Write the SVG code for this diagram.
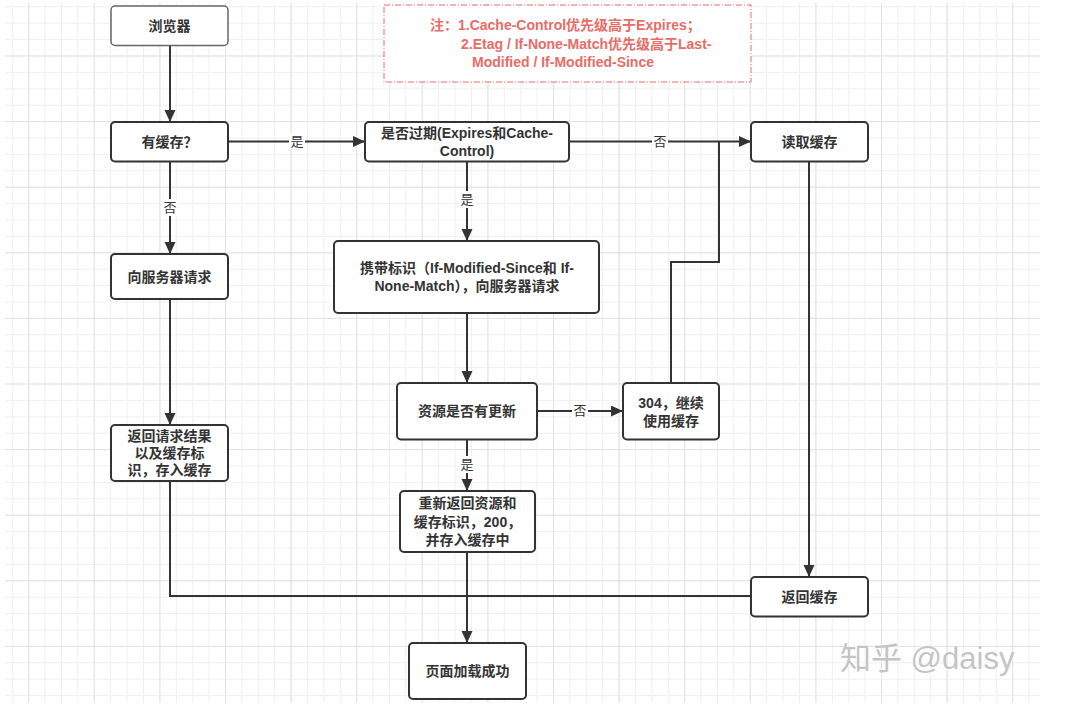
<svg xmlns="http://www.w3.org/2000/svg" width="1092" height="716" viewBox="0 0 1092 716">
  <style>
    .node rect { fill: #ffffff; stroke: #333333; stroke-width: 2; }
    .node text { font-family: "Liberation Sans", "Noto Sans CJK SC", sans-serif; font-size: 14px; font-weight: bold; fill: #333333; text-anchor: middle; dominant-baseline: central; }
    .edge { fill: none; stroke: #333333; stroke-width: 2; }
    .lbl text { font-family: "Liberation Sans", "Noto Sans CJK SC", sans-serif; font-size: 13px; fill: #333333; text-anchor: middle; dominant-baseline: central; }
    .lbl rect { fill: #ffffff; }
    .note text { font-family: "Liberation Sans", "Noto Sans CJK SC", sans-serif; font-size: 14px; font-weight: bold; fill: #ea6b66; dominant-baseline: central; }
    .wm { font-family: "Liberation Sans", "Noto Sans CJK SC", sans-serif; font-size: 31px; fill: #c4c4c4; dominant-baseline: central; }
  </style>
  <defs>
    <pattern id="minor" patternUnits="userSpaceOnUse" x="28.2" y="55.5" width="16.4" height="16.4">
      <path d="M0.5,0 V16.4 M0,0.5 H16.4" stroke="#efefef" stroke-width="1" fill="none"/>
    </pattern>
    <pattern id="major" patternUnits="userSpaceOnUse" x="28.2" y="55.5" width="65.6" height="65.6">
      <path d="M0.5,0 V65.6 M0,0.5 H65.6" stroke="#e2e2e2" stroke-width="1" fill="none"/>
    </pattern>
    <marker id="arrow" markerUnits="userSpaceOnUse" markerWidth="13" markerHeight="12" refX="12" refY="5.5" orient="auto">
      <path d="M0,0 L12,5.5 L0,11 Z" fill="#333333"/>
    </marker>
  </defs>

  <rect x="0" y="0" width="1092" height="716" fill="#ffffff"/>
  <rect x="5" y="3" width="1035" height="700" fill="url(#minor)"/>
  <rect x="5" y="3" width="1035" height="700" fill="url(#major)"/>

  <g id="connectors">
    <path class="edge" d="M170,46 V122" marker-end="url(#arrow)"/>
    <path class="edge" d="M228,141.5 H365" marker-end="url(#arrow)"/>
    <path class="edge" d="M170,161.5 V254" marker-end="url(#arrow)"/>
    <path class="edge" d="M569,141.5 H751" marker-end="url(#arrow)"/>
    <path class="edge" d="M467,161.5 V241" marker-end="url(#arrow)"/>
    <path class="edge" d="M170,299 V425" marker-end="url(#arrow)"/>
    <path class="edge" d="M467,313 V383" marker-end="url(#arrow)"/>
    <path class="edge" d="M537,411 H623" marker-end="url(#arrow)"/>
    <path class="edge" d="M671,383 V262 H719 V141.5"/>
    <path class="edge" d="M467,439.5 V491" marker-end="url(#arrow)"/>
    <path class="edge" d="M467,552 V643" marker-end="url(#arrow)"/>
    <path class="edge" d="M170,481 V596 H467"/>
    <path class="edge" d="M751,596 H467"/>
    <path class="edge" d="M809,162 V577" marker-end="url(#arrow)"/>
    <g class="lbl">
      <rect x="289" y="133" width="16" height="17"/><text x="297" y="141.5">是</text>
      <rect x="162" y="199" width="16" height="17"/><text x="170" y="207.5">否</text>
      <rect x="652" y="133" width="16" height="17"/><text x="660" y="141.5">否</text>
      <rect x="459" y="191" width="16" height="17"/><text x="467" y="199.5">是</text>
      <rect x="572" y="402" width="16" height="17"/><text x="580" y="410.5">否</text>
      <rect x="459" y="456" width="16" height="17"/><text x="467" y="464.5">是</text>
    </g>
  </g>

  <g id="note" class="note">
    <rect x="384" y="5" width="367" height="77" fill="#ffffff" stroke="#ea6b66" stroke-width="1" stroke-dasharray="6,2,1,2"/>
    <text x="430" y="25">注：1.Cache-Control优先级高于Expires；</text>
    <text x="461" y="44">2.Etag / If-None-Match优先级高于Last-</text>
    <text x="472" y="62">Modified / If-Modified-Since</text>
  </g>

  <g id="browser" class="node">
    <rect x="111" y="6" width="117" height="39.5" rx="4" style="stroke:#666666;stroke-width:1.5"/>
    <text x="169.5" y="26">浏览器</text>
  </g>
  <g id="hasCache" class="node">
    <rect x="111" y="122" width="117" height="39.5" rx="4"/>
    <text x="169.5" y="141.5">有缓存？</text>
  </g>
  <g id="expired" class="node">
    <rect x="365" y="122" width="204" height="39.5" rx="4"/>
    <text x="467" y="132.5">是否过期(Expires和Cache-</text>
    <text x="467" y="150.5">Control)</text>
  </g>
  <g id="readCache" class="node">
    <rect x="751" y="122" width="117" height="39.5" rx="4"/>
    <text x="809.5" y="141.5">读取缓存</text>
  </g>
  <g id="request" class="node">
    <rect x="111" y="254" width="117" height="45" rx="4"/>
    <text x="169.5" y="277">向服务器请求</text>
  </g>
  <g id="carry" class="node">
    <rect x="334" y="241" width="265" height="72" rx="4"/>
    <text x="467" y="268">携带标识（If-Modified-Since和 If-</text>
    <text x="467" y="285.5">None-Match），向服务器请求</text>
  </g>
  <g id="returnResult" class="node">
    <rect x="111" y="425" width="117" height="56" rx="4"/>
    <text x="169.5" y="436">返回请求结果</text>
    <text x="169.5" y="453">以及缓存标</text>
    <text x="169.5" y="470">识，存入缓存</text>
  </g>
  <g id="updated" class="node">
    <rect x="397" y="383" width="140" height="56.5" rx="4"/>
    <text x="467" y="411">资源是否有更新</text>
  </g>
  <g id="n304" class="node">
    <rect x="623" y="383" width="96" height="56.5" rx="4"/>
    <text x="671" y="403">304，继续</text>
    <text x="671" y="420.5">使用缓存</text>
  </g>
  <g id="reReturn" class="node">
    <rect x="400" y="491" width="135" height="61" rx="4"/>
    <text x="467.5" y="503">重新返回资源和</text>
    <text x="467.5" y="521.5">缓存标识，200，</text>
    <text x="467.5" y="539.5">并存入缓存中</text>
  </g>
  <g id="returnCache" class="node">
    <rect x="751" y="577" width="117" height="39.5" rx="4"/>
    <text x="809.5" y="596.5">返回缓存</text>
  </g>
  <g id="loaded" class="node">
    <rect x="409" y="643" width="117" height="56" rx="4"/>
    <text x="467.5" y="671">页面加载成功</text>
  </g>

  <text class="wm" x="840" y="658" style="paint-order:stroke;stroke:#ffffff;stroke-width:1.5">知乎 @daisy</text>
</svg>
